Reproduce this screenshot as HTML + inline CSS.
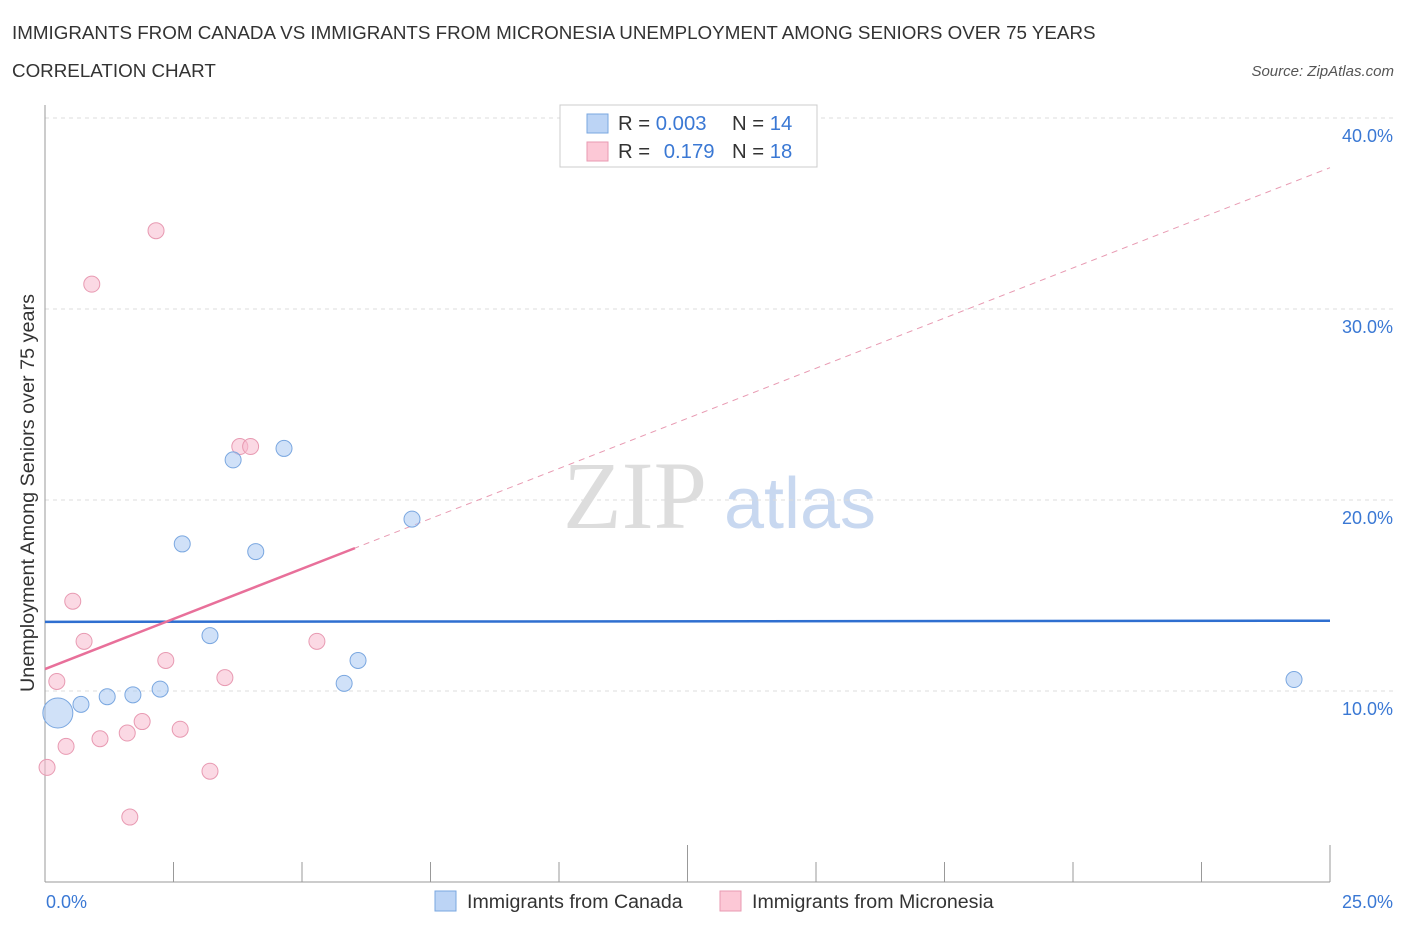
<!DOCTYPE html>
<html><head><meta charset="utf-8"><style>
body{margin:0;background:#fff;font-family:"Liberation Sans",sans-serif;}
svg text{font-family:"Liberation Sans",sans-serif;}
</style></head><body>
<svg id="chart" width="1406" height="930">
<text x="12" y="39" font-size="18.8" fill="#333">IMMIGRANTS FROM CANADA VS IMMIGRANTS FROM MICRONESIA UNEMPLOYMENT AMONG SENIORS OVER 75 YEARS</text>
<text x="12" y="77" font-size="18.8" fill="#333">CORRELATION CHART</text>
<text x="1394" y="76" font-size="15" fill="#555" font-style="italic" text-anchor="end">Source: ZipAtlas.com</text>
<text x="635" y="528" font-size="96" fill="#ddd" style="font-family:'Liberation Serif',serif" text-anchor="middle">ZIP</text>
<text x="800" y="528" font-size="72" fill="#c8d8f0" text-anchor="middle">atlas</text>
<g id="grid"></g>
<g id="axes"></g>
<g id="marks"></g>
<text transform="translate(34,493) rotate(-90)" font-size="19.8" fill="#333" text-anchor="middle">Unemployment Among Seniors over 75 years</text>
<text x="46" y="908" font-size="18" fill="#3a78d4">0.0%</text>
<text x="1393" y="908" font-size="18" fill="#3a78d4" text-anchor="end">25.0%</text>
<g>
<rect x="560" y="105" width="257" height="62" fill="#fff" stroke="#ccc"/>
<rect x="587" y="114" width="21" height="19" fill="#bcd4f5" stroke="#7aa7e0"/>
<rect x="587" y="142" width="21" height="19" fill="#fcc8d6" stroke="#e89ab2"/>
<text x="618" y="130" font-size="20.3" fill="#333">R = <tspan fill="#3a78d4">0.003</tspan></text>
<text x="732" y="130" font-size="20.3" fill="#333">N = <tspan fill="#3a78d4">14</tspan></text>
<text x="618" y="158" font-size="20.3" fill="#333">R = <tspan fill="#3a78d4" dx="8">0.179</tspan></text>
<text x="732" y="158" font-size="20.3" fill="#333">N = <tspan fill="#3a78d4">18</tspan></text>
</g>
<g>
<rect x="435" y="891" width="21" height="20" fill="#bcd4f5" stroke="#7aa7e0"/>
<text x="467" y="908" font-size="19.6" fill="#333">Immigrants from Canada</text>
<rect x="720" y="891" width="21" height="20" fill="#fcc8d6" stroke="#e89ab2"/>
<text x="752" y="908" font-size="19.6" fill="#333">Immigrants from Micronesia</text>
</g>
</svg>
<script>
const yTicks=[10,20,30,40];
const xTicks=[0,2.5,5,7.5,10,12.5,15,17.5,20,22.5,25];
const canadaX=[0.25,0.7,1.21,1.71,2.24,2.67,3.21,3.66,4.1,4.65,5.82,6.09,7.14,24.3];
const canadaY=[8.85,9.3,9.7,9.8,10.1,17.7,12.9,22.1,17.3,22.7,10.4,11.6,19.0,10.6];
const microX=[0.04,0.23,0.41,0.54,0.76,0.91,1.07,1.6,1.65,1.89,2.16,2.35,2.63,3.21,3.5,3.79,4.0,5.29];
const microY=[6.0,10.5,7.1,14.7,12.6,31.3,7.5,7.8,3.4,8.4,34.1,11.6,8.0,5.8,10.7,22.8,22.8,12.6];
const canadaTrend=[13.62,13.68];
const microTrend=[11.15,1.05];
const sx=v=>45+v*51.4, sy=v=>882-v*19.1;
const NS="http://www.w3.org/2000/svg";
function mk(p,t,a){const e=document.createElementNS(NS,t);for(const k in a)e.setAttribute(k,a[k]);document.getElementById(p).appendChild(e);return e;}
yTicks.forEach(v=>{
 const l=mk('grid','line',{x1:45,x2:1395,y1:sy(v),y2:sy(v),stroke:'#ddd','stroke-dasharray':'4,4'});
 
 
 const t=mk('grid','text',{x:1393,y:sy(v)+24,'font-size':18,fill:'#3a78d4','text-anchor':'end'});t.textContent=v.toFixed(1)+'%';
 
 
});
mk('grid','line',{x1:45,x2:1395,y1:118,y2:118,stroke:'#ddd','stroke-dasharray':'4,4'});
mk('axes','line',{x1:45,x2:45,y1:105,y2:882,stroke:'#999'});
mk('axes','line',{x1:45,x2:1330,y1:882,y2:882,stroke:'#999'});
xTicks.forEach((v,i)=>{
 const l=mk('axes','line',{x1:sx(v),x2:sx(v),y1:(i==5||i==10)?845:862,y2:882,stroke:'#999'});
 
 
});
const bl=mk('marks','line',{x1:sx(0),x2:sx(25),y1:sy(canadaTrend[0]),y2:sy(canadaTrend[1]),stroke:'#2f6fd0','stroke-width':2.5});


const pd=mk('marks','line',{x1:sx(6),x2:sx(25),y1:sy(microTrend[0]+6*microTrend[1]),y2:sy(microTrend[0]+25*microTrend[1]),stroke:'#e89ab2','stroke-dasharray':'6,5','stroke-width':1});


const pl=mk('marks','line',{x1:sx(0),x2:sx(6.03),y1:sy(microTrend[0]),y2:sy(microTrend[0]+6.03*microTrend[1]),stroke:'#e8709a','stroke-width':2.5});


microX.forEach((x,i)=>{
 const c=mk('marks','circle',{cx:sx(x),cy:sy(microY[i]),r:8,fill:'rgba(248,185,205,0.55)',stroke:'#e89ab2'});
 
 
});
canadaX.forEach((x,i)=>{
 const c=mk('marks','circle',{cx:sx(x),cy:sy(canadaY[i]),r:i==0?15:8,fill:'rgba(170,200,242,0.55)',stroke:'#7aa7e0'});
 
 
});
</script>
</body></html>
